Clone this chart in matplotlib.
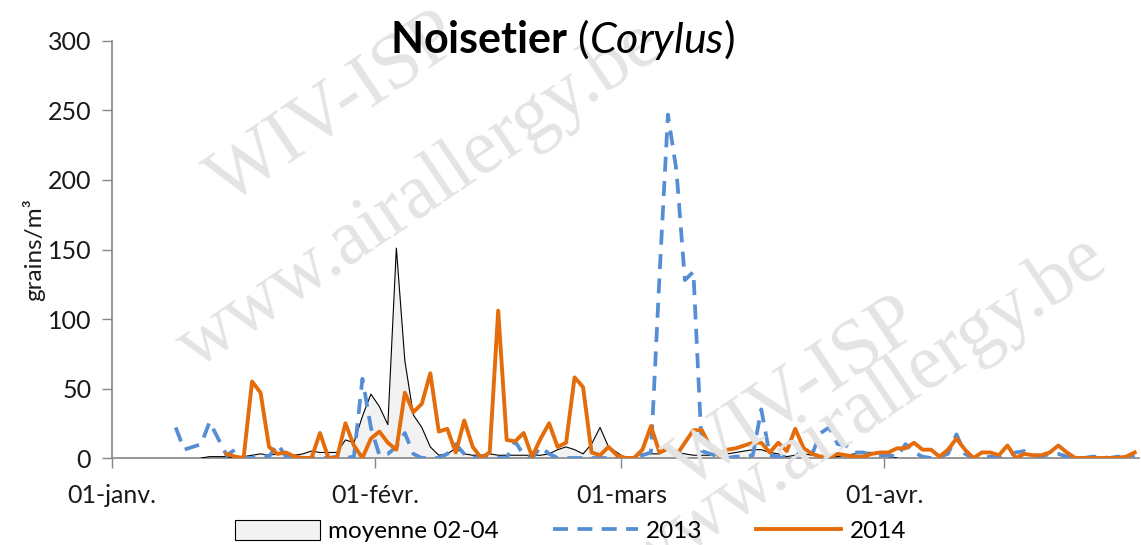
import matplotlib
matplotlib.use("Agg")
import matplotlib.pyplot as plt
import numpy as np
from matplotlib.patches import Patch
from matplotlib.lines import Line2D

nan = np.nan

# Données journalières du 01-janv. au 30-avr. (121 jours, février à 29 jours)
moyenne = [nan] * 10 + [
    0, 1, 1, 1, 0, 1, 2, 3, 2, 3,           # 10-19
    3, 2, 3, 5, 4, 4, 4, 13, 11, 30,        # 20-29
    46, 37, 24, 151, 70, 31, 22, 8, 2, 3,   # 30-39
    7, 3, 2, 2, 3, 2, 2, 2, 2, 2,           # 40-49
    2, 3, 6, 8, 6, 3, 10, 22, 8, 4,         # 50-59
    0, 1, 3, 3, 3, 6, 4, 3, 2, 2,           # 60-69
    2, 3, 3, 4, 5, 6, 6, 4, 3, 1,           # 70-79
    2, 3, 2, 1, 1, 1, 2, 3, 4, 4,           # 80-89
    3, 1, 0,                                # 90-92
] + [nan] * 28

pollen_2013 = [nan] * 7 + [
    22, 6, 8,                               # 7-9
    10, 26, 14, 2, 6, 0, 0, 2, 1, 10,       # 10-19
    1, 0, 0, 0, 0, 0, 1, 0, 1, 57,          # 20-29
    22, 2, 3, 8, 18, 3, 0, 0, 0, 3,         # 30-39
    10, 3, 0, 1, 0, 0, 0, 12, 2, 0,         # 40-49
    8, 3, 0, 0, 0, 0, 0, 0, 0, 0,           # 50-59
    0, 0, 2, 4, 130, 247, 207, 128, 134, 5, # 60-69
    3, 1, 0, 1, 1, 2, 35, 2, 1, 1,          # 70-79
    0, 8, 3, 18, 22, 10, 9, 4, 4, 2,        # 80-89
    2, 2, 1, 10, 4, 1, 0, 1, 3, 17,         # 90-99
    3, 0, 0, 1, 0, 2, 4, 5, 2, 1,           # 100-109
    3, 3, 1, 0, 0, 1, 1, 0, 1, 1,           # 110-119
    2,                                      # 120
]

pollen_2014 = [nan] * 13 + [
    3, 1, 0, 55, 47, 8, 3,                  # 13-19
    4, 1, 0, 0, 18, 0, 0, 25, 9, 0,         # 20-29
    14, 19, 11, 6, 47, 33, 39, 61, 19, 21,  # 30-39
    4, 27, 8, 0, 4, 106, 13, 12, 18, 1,     # 40-49
    14, 25, 8, 11, 58, 51, 4, 2, 8, 2,      # 50-59
    0, 0, 6, 23, 4, 7, 2, 11, 20, 20,       # 60-69
    8, 2, 6, 7, 9, 11, 11, 4, 11, 5,        # 70-79
    21, 7, 3, 1, 1, 3, 2, 1, 1, 3,          # 80-89
    4, 4, 7, 7, 11, 6, 6, 1, 6, 14,         # 90-99
    6, 0, 4, 4, 2, 9, 0, 3, 2, 2,           # 100-109
    4, 9, 4, 0, 0, 0, 0, 0, 0, 1,           # 110-119
    4,                                      # 120
]

tick_days = [0, 31, 60, 91]
tick_labels = ["01-janv.", "01-févr.", "01-mars", "01-avr."]
legend_labels = ["moyenne 02-04", "2013", "2014"]

ORANGE = "#E46C0A"
BLUE = "#558ED5"
GREY = "#868686"
DASH = (0, (4, 2.5))

plt.rcParams["font.family"] = ["Lato", "DejaVu Sans"]
plt.rcParams["mathtext.fontset"] = "custom"
plt.rcParams["mathtext.rm"] = "Lato"
plt.rcParams["mathtext.it"] = "Lato:italic"
plt.rcParams["mathtext.bf"] = "Lato:bold"

fig = plt.figure(figsize=(11.41, 5.45), dpi=100)
ax = fig.add_axes([0.0982, 0.1596, 0.9, 0.7652])

# filigrane
wm = dict(family="Liberation Serif", color="#e4e4e4", rotation=34,
          ha="center", va="center", zorder=0, fontsize=56)
fig.text(335 / 1141, 1 - 110 / 545, "WIV-ISP", **wm)
fig.text(420 / 1141, 1 - 196 / 545, "www.airallergy.be", **wm)
fig.text(795 / 1141, 1 - 395 / 545, "WIV-ISP", **wm)
fig.text(865 / 1141, 1 - 411 / 545, "www.airallergy.be", **wm)
ax.patch.set_alpha(0)

x = np.arange(len(pollen_2014)) + 0.5
moy = np.array(moyenne, dtype=float)
ax.fill_between(x, 0, moy, where=~np.isnan(moy), color="#F2F2F2", lw=0, zorder=2)
ax.plot(x, moy, color="black", lw=0.8, zorder=3)
ax.plot(x, pollen_2013, color=BLUE, lw=2.7, ls=DASH, zorder=4)
ax.plot(x, pollen_2014, color=ORANGE, lw=2.8, zorder=5)

ax.set_xlim(0, 121)
ax.set_ylim(0, 300)
ax.set_yticks(range(0, 301, 50))
ax.set_xticks(tick_days)
ax.set_xticklabels(tick_labels)
ax.tick_params(axis="both", colors=GREY, labelcolor="#1a1a1a", labelsize=18,
               length=7, width=1)
ax.tick_params(axis="x", pad=12)
ax.tick_params(axis="y", pad=8)
for s in ["top", "right"]:
    ax.spines[s].set_visible(False)
for s in ["left", "bottom"]:
    ax.spines[s].set_color(GREY)
    ax.spines[s].set_linewidth(1.2)

ax.set_ylabel("grains/m³", fontsize=17.5, color="#1a1a1a", labelpad=2)

fig.text(0.493, 1 - 40 / 545, r"$\mathbf{Noisetier}$ ($\mathit{Corylus}$)",
         fontsize=31, ha="center", va="center")

handles = [
    Patch(facecolor="#F2F2F2", edgecolor="black", lw=0.8),
    Line2D([], [], color=BLUE, lw=2.7, ls=DASH),
    Line2D([], [], color=ORANGE, lw=2.8),
]
fig.legend(handles, legend_labels, loc="center", bbox_to_anchor=(0.5, 1 - 531 / 545),
           ncol=3, frameon=False, fontsize=17.5, handlelength=3.5, handleheight=0.9,
           columnspacing=2.2, handletextpad=0.35, borderpad=0.1)

fig.savefig("out.png", dpi=100)
